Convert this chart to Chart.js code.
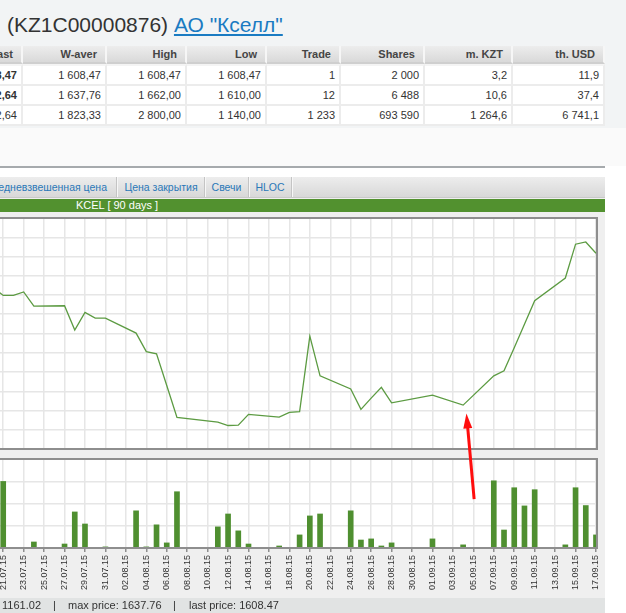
<!DOCTYPE html>
<html>
<head>
<meta charset="utf-8">
<script src="https://cdn.jsdelivr.net/npm/chart.js@4.4.1/dist/chart.umd.min.js"></script>
<style>
  html, body { margin:0; padding:0; }
  body { width:626px; height:613px; overflow:hidden; position:relative; background:#fff;
         font-family:"Liberation Sans", Arial, sans-serif; color:#333; }
  .abs { position:absolute; }
  #topbg { left:0; top:0; width:626px; height:128px; background:#f2f4f5; }
  #midbg { left:0; top:128px; width:626px; height:38px; background:#fafafa; }
  #rule { left:0; top:166px; width:605px; height:2px; background:#a6aaad; }
  #title { left:7px; top:14px; font-size:21px; line-height:21px; color:#333; white-space:nowrap; }
  #title a { color:#1a7bc2; text-decoration:underline; }

  table.stats { position:absolute; left:-57px; top:46px; width:662px; border-collapse:separate;
                border-spacing:0; table-layout:fixed; font-size:11px; }
  table.stats th, table.stats td { box-sizing:border-box; text-align:right; white-space:nowrap; overflow:hidden; }
  table.stats th { height:18px; padding:0 8px; font-weight:bold; color:#454545;
                   background:linear-gradient(#ededed,#d9d9d9); border-right:2px solid #f6f6f6;
                   border-bottom:2px solid #cfcfcf; }
  table.stats td { height:20px; padding:0 4px; background:#fff; color:#333;
                   border-right:2px solid #ececec; border-bottom:2px solid #ececec; }
  table.stats tr.first td { height:22px; border-top:2px solid #f4f4f4; }
  table.stats td.b { font-weight:bold; }

  #panel { left:0; top:177px; width:605px; height:436px; background:#efefef; }
  #tabs { left:0; top:177px; width:605px; height:20px; background:linear-gradient(#ededed,#d8d8d8);
          border-bottom:1px solid #c9c9c9; }
  .tab { position:absolute; top:0; height:20px; line-height:20px; font-size:10.5px; color:#2a78b8;
         text-align:center; border-right:1px solid #c4c4c4; box-shadow:1px 0 0 #f7f7f7; white-space:nowrap; }
  #greenbar { left:0; top:199px; width:605px; height:13px; background:#52912f; }
  #greenbar span { position:absolute; left:76px; top:0; line-height:13px; font-size:11px; color:#fff; white-space:nowrap; }

  .box { position:absolute; box-sizing:border-box; border:2px solid #8e8e8e; pointer-events:none; }
  canvas { position:absolute; }

  #status { left:0; top:598px; width:605px; height:15px; background:#e1e3e3; font-size:11px; color:#333; }
  #status span { position:absolute; top:0; line-height:15px; white-space:nowrap; }
  #arrow { left:0; top:0; width:626px; height:613px; pointer-events:none; }
</style>
</head>
<body>
<div class="abs" id="topbg"></div>
<div class="abs" id="midbg"></div>
<div class="abs" id="title">(KZ1C00000876) <a href="#">АО "Кселл"</a></div>

<table class="stats">
  <colgroup>
    <col style="width:80px"><col style="width:84px"><col style="width:80px"><col style="width:80px">
    <col style="width:74px"><col style="width:84px"><col style="width:88px"><col style="width:92px">
  </colgroup>
  <thead>
    <tr><th>Last</th><th>W-aver</th><th>High</th><th>Low</th><th>Trade</th><th>Shares</th><th>m. KZT</th><th>th. USD</th></tr>
  </thead>
  <tbody>
    <tr class="first"><td class="b">1 608,47</td><td>1 608,47</td><td>1 608,47</td><td>1 608,47</td><td>1</td><td>2 000</td><td>3,2</td><td>11,9</td></tr>
    <tr><td class="b">1 632,64</td><td>1 637,76</td><td>1 662,00</td><td>1 610,00</td><td>12</td><td>6 488</td><td>10,6</td><td>37,4</td></tr>
    <tr><td>1 632,64</td><td>1 823,33</td><td>2 800,00</td><td>1 140,00</td><td>1 233</td><td>693 590</td><td>1 264,6</td><td>6 741,1</td></tr>
  </tbody>
</table>

<div class="abs" id="rule"></div>

<div class="abs" id="panel"></div>
<div class="abs" id="tabs">
  <div class="tab" style="left:-40px;width:157px;text-align:right;padding-right:9px;box-sizing:border-box;">Средневзвешенная цена</div>
  <div class="tab" style="left:118px;width:86px;">Цена закрытия</div>
  <div class="tab" style="left:205px;width:43px;">Свечи</div>
  <div class="tab" style="left:249px;width:42px;">HLOC</div>
</div>
<div class="abs" id="greenbar"><span>KCEL [ 90 days ]</span></div>

<canvas id="priceCanvas" width="603" height="231" style="left:-7px;top:218px;background:#fff;"></canvas>
<div class="box" style="left:-10px;top:217px;width:608px;height:233px;"></div>

<div class="abs" style="left:0;top:460px;width:596px;height:88px;background:#fff;"></div>
<canvas id="volCanvas" width="613" height="138" style="left:-7px;top:459px;"></canvas>
<div class="box" style="left:-10px;top:458px;width:608px;height:91px;"></div>

<div class="abs" id="status">
  <span id="sMin" style="left:-100px;width:141px;text-align:right;"></span>
  <span style="left:53px;">|</span>
  <span id="sMax" style="left:68px;"></span>
  <span style="left:173px;">|</span>
  <span id="sLast" style="left:189px;"></span>
</div>

<svg class="abs" id="arrow" xmlns="http://www.w3.org/2000/svg"></svg>

<script>
// axis labels (every second day)
const tickLabels = ['21.07.15','23.07.15','25.07.15','27.07.15','29.07.15','31.07.15','02.08.15','04.08.15',
  '06.08.15','08.08.15','10.08.15','12.08.15','14.08.15','16.08.15','18.08.15','20.08.15','22.08.15',
  '24.08.15','26.08.15','28.08.15','30.08.15','01.09.15','03.09.15','05.09.15','07.09.15','09.09.15',
  '11.09.15','13.09.15','15.09.15','17.09.15'];

// trading days and weighted average price, KZT
const priceDates = ['20.07.15','21.07.15','22.07.15','23.07.15','24.07.15','27.07.15','28.07.15','29.07.15',
  '30.07.15','31.07.15','03.08.15','04.08.15','05.08.15','06.08.15','07.08.15','11.08.15','12.08.15',
  '13.08.15','14.08.15','17.08.15','18.08.15','19.08.15','20.08.15','21.08.15','24.08.15','25.08.15',
  '26.08.15','27.08.15','28.08.15','01.09.15','04.09.15','07.09.15','08.09.15','09.09.15','10.09.15',
  '11.09.15','14.09.15','15.09.15','16.09.15','17.09.15'];
const prices = [1520,1499,1499,1508,1471,1472,1409,1455,
  1440,1440,1401,1353,1347,1265,1182,1170,1161.02,
  1162,1190,1183,1195,1197,1393,1290,1256,1203,
  1232,1260,1220,1240,1214,1290,1303,1363,1424,
  1485,1544,1632,1637.76,1608.47];

// traded shares per day
const shares = [null,10170,0,0,920,610,5510,3670,
  0,170,5680,170,3540,780,8600,3230,5200,
  2620,610,310,0,2000,4900,5200,5680,1220,
  1390,310,780,1390,480,10270,2750,9210,6430,
  8910,480,9210,6488,2000];

const priceRange = [1100, 1700, 50];
const volRange = [0, 13600, 3400];
const arrowDate = '04.09.15';

Chart.defaults.font.family = '"Liberation Sans", Arial, sans-serif';

function toDay(s) {
  const p = s.split('.').map(Number);
  return Date.UTC(2000 + p[2], p[1] - 1, p[0]) / 86400000;
}
const day0 = toDay(tickLabels[0]);
const dx = s => toDay(s) - day0;
const tickDays = tickLabels.map(dx);
const xMin = dx(priceDates[0]);
const xMax = tickDays[tickDays.length - 1];

const gridCol = '#e6e6e6';

function xScale(showLabels) {
  return {
    type: 'linear', min: xMin, max: xMax, offset: false,
    afterBuildTicks: s => { s.ticks = tickDays.map(v => ({ value: v })); },
    afterFit: s => {
      s.height = showLabels ? 49 : 0;
      s.paddingLeft = 0; s.paddingRight = 0;
    },
    ticks: {
      display: showLabels, autoSkip: false, minRotation: 90, maxRotation: 90, padding: 3,
      color: '#333', font: { size: 9 },
      callback: (v, i) => tickLabels[i]
    },
    grid: { color: gridCol, lineWidth: 1.5, offset: false, drawTicks: showLabels, tickLength: 4, tickColor: '#8e8e8e', tickWidth: 1.5 },
    border: { display: false }
  };
}
function yScale(r) {
  return {
    min: r[0], max: r[1],
    afterFit: s => { s.width = 0; s.paddingTop = 0; s.paddingBottom = 0; },
    ticks: { stepSize: r[2], display: false },
    grid: { color: gridCol, lineWidth: 1.5, drawTicks: false },
    border: { display: false }
  };
}
function common(padRight) {
  return {
    responsive: false, animation: false, events: [],
    layout: { padding: { left: 0, top: 0, bottom: 0, right: padRight } },
    plugins: { legend: { display: false }, tooltip: { enabled: false } }
  };
}

const priceCanvas = document.getElementById('priceCanvas');
const priceChart = new Chart(priceCanvas, {
  type: 'line',
  data: { datasets: [{
    data: priceDates.map((d, i) => ({ x: dx(d), y: prices[i] })),
    borderColor: '#5c9b42', borderWidth: 1.3, pointRadius: 0, tension: 0, fill: false
  }]},
  options: Object.assign(common(0), { scales: { x: xScale(false), y: yScale(priceRange) } })
});

new Chart(document.getElementById('volCanvas'), {
  type: 'bar',
  data: { datasets: [{
    data: priceDates.map((d, i) => ({ x: dx(d), y: shares[i] })),
    backgroundColor: '#4f8f30', borderWidth: 0, barThickness: 5
  }]},
  options: Object.assign(common(10), { scales: { x: xScale(true), y: yScale(volRange) } })
});

// status line
const valid = prices.filter(v => v != null);
document.getElementById('sMin').textContent = 'min price: ' + Math.min(...valid).toFixed(2);
document.getElementById('sMax').textContent = 'max price: ' + Math.max(...valid).toFixed(2);
document.getElementById('sLast').textContent = 'last price: ' + valid[valid.length - 1].toFixed(2);

// red pointer under the 04.09 price
(function () {
  const i = priceDates.indexOf(arrowDate);
  const px = priceCanvas.offsetLeft + priceChart.scales.x.getPixelForValue(dx(arrowDate));
  const py = priceCanvas.offsetTop + priceChart.scales.y.getPixelForValue(prices[i]);
  const tip = [px + 3.3, py + 8.3], tail = [px + 11, py + 94];
  const vx = tip[0] - tail[0], vy = tip[1] - tail[1], len = Math.hypot(vx, vy);
  const ux = vx / len, uy = vy / len, hl = 15, hw = 4.5;
  const bx = tip[0] - ux * hl, by = tip[1] - uy * hl;
  const svg = document.getElementById('arrow');
  svg.innerHTML =
    '<line x1="' + tail[0] + '" y1="' + tail[1] + '" x2="' + (bx + ux * 2) + '" y2="' + (by + uy * 2) +
    '" stroke="#ff0d0d" stroke-width="3"/>' +
    '<polygon fill="#ff0d0d" points="' + tip[0] + ',' + tip[1] + ' ' +
    (bx - uy * hw) + ',' + (by + ux * hw) + ' ' + (bx + uy * hw) + ',' + (by - ux * hw) + '"/>';
})();
</script>
</body>
</html>
